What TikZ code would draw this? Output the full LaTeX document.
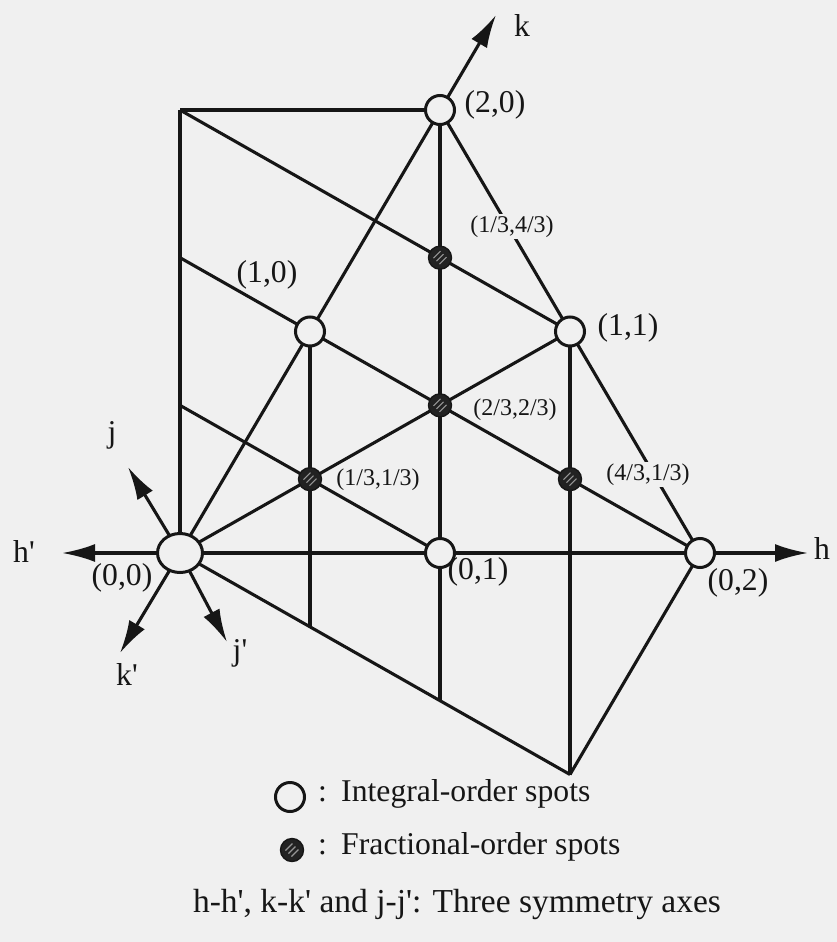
\documentclass[tikz,border=0pt]{standalone}
\usepackage{fontspec}
\setmainfont{Liberation Serif}
\usetikzlibrary{arrows.meta,shapes.geometric}
\definecolor{bg}{RGB}{240,240,240}
\definecolor{ink}{RGB}{22,22,22}
\definecolor{hatch}{RGB}{150,150,150}
\newcommand{\pr}{\textquotesingle}
\begin{document}
\begin{tikzpicture}[x=1pt,y=-1pt,
  lat/.style={draw=ink, line width=3.1pt},
  axisarrow/.style={draw=ink, line width=3.1pt, -{Latex[length=33pt,width=18pt]}},
  ispot/.style={circle, draw=ink, fill=bg, line width=3pt, minimum size=29pt, inner sep=0pt},
  ospot/.style={ellipse, draw=ink, fill=bg, line width=3pt, minimum width=45pt, minimum height=39pt, inner sep=0pt},
  hatchline/.style={draw=hatch, line width=1.1pt},
  fspot/.style={circle, draw=ink, fill=ink!95, line width=1.4pt, minimum size=23pt, inner sep=0pt,
    path picture={
      \draw[hatchline] (path picture bounding box.center) ++(-6.5pt,-0.5pt) -- ++(7pt,7pt);
      \draw[hatchline] (path picture bounding box.center) ++(-3.5pt,-3.5pt) -- ++(7pt,7pt);
      \draw[hatchline] (path picture bounding box.center) ++(-0.5pt,-6.5pt) -- ++(7pt,7pt);
    }},
  lbl/.style={font=\fontsize{31.7}{36}\selectfont, text=ink, inner sep=1pt, anchor=mid},
  slbl/.style={font=\fontsize{24}{28}\selectfont, text=ink, inner sep=2pt, anchor=mid},
  cutlbl/.style={slbl, fill=bg}]
\fill[bg] (0,0) rectangle (837,942);
\useasboundingbox (0,0) rectangle (837,942);
% lattice coordinates
\coordinate (cO) at (180,553);
\coordinate (c10) at (310,331.5);
\coordinate (c20) at (440,110);
\coordinate (c01) at (440,553);
\coordinate (c02) at (700,553);
\coordinate (c11) at (570,331.5);
\coordinate (C1) at (180,110);
\coordinate (L1) at (180,257.67);
\coordinate (L2) at (180,405.33);
\coordinate (cf1) at (310,479.17);
\coordinate (cf2) at (440,405.33);
\coordinate (cf3) at (440,257.67);
\coordinate (cf4) at (570,479.17);
\coordinate (B) at (570,774.5);
\coordinate (D1) at (310,626.83);
\coordinate (D2) at (440,700.67);
% axis tips
\coordinate (htip) at (808,553);
\coordinate (hptip) at (62,553);
\coordinate (ktip) at (496,15);
\coordinate (kptip) at (120,653);
\coordinate (jtip) at (128,467);
\coordinate (jptip) at (227,642);
% lattice lines
\draw[lat] (C1) -- (cO);
\draw[lat] (C1) -- (c20);
\draw[lat] (C1) -- (c11);
\draw[lat] (L1) -- (c02);
\draw[lat] (L2) -- (c01);
\draw[lat] (cO) -- (B);
\draw[lat] (c02) -- (B);
\draw[lat] (cO) -- (c11);
\draw[lat] (c20) -- (c02);
\draw[lat] (c10) -- (D1);
\draw[lat] (c20) -- (D2);
\draw[lat] (c11) -- (B);
% symmetry axes
\draw[axisarrow] (cO) -- (htip);
\draw[axisarrow] (cO) -- (hptip);
\draw[axisarrow] (cO) -- (ktip);
\draw[axisarrow] (cO) -- (kptip);
\draw[axisarrow] (cO) -- (jtip);
\draw[axisarrow] (cO) -- (jptip);
% spots
\node[ospot] (O) at (cO) {};
\node[ispot] (n10) at (c10) {};
\node[ispot] (n20) at (c20) {};
\node[ispot] (n01) at (c01) {};
\node[ispot] (n02) at (c02) {};
\node[ispot] (n11) at (c11) {};
\node[fspot] (f1) at (cf1) {};
\node[fspot] (f2) at (cf2) {};
\node[fspot] (f3) at (cf3) {};
\node[fspot] (f4) at (cf4) {};
% labels
\node[lbl] (lk) at (522,34) {k};
\node[lbl] (lh) at (822,557) {h};
\node[lbl] (lhp) at (24,560) {h\pr};
\node[lbl] (lj) at (112,440) {j};
\node[lbl] (ljp) at (240,658) {j\pr};
\node[lbl] (lkp) at (127,683) {k\pr};
\node[lbl] (l00) at (122,583) {(0,0)};
\node[lbl] (l01) at (478,577) {(0,1)};
\node[lbl] (l02) at (738,588) {(0,2)};
\node[lbl] (l10) at (267,280) {(1,0)};
\node[lbl] (l11) at (628,333) {(1,1)};
\node[lbl] (l20) at (495,110) {(2,0)};
\node[cutlbl] (lf3) at (512,230) {(1/3,4/3)};
\node[slbl] (lf2) at (515,413) {(2/3,2/3)};
\node[slbl] (lf1) at (378,483) {(1/3,1/3)};
\node[cutlbl] (lf4) at (648,478) {(4/3,1/3)};
% legend
\node[ispot] (legI) at (290,797) {};
\node[lbl, anchor=mid west] (legIt) at (317,799) {:\hspace{0.45em}Integral-order spots};
\node[fspot] (legF) at (292,850) {};
\node[lbl, anchor=mid west] (legFt) at (317,852) {:\hspace{0.45em}Fractional-order spots};
\node[lbl, font=\fontsize{33.5}{38}\selectfont] (cap) at (457,910) {h-h\pr, k-k\pr{} and j-j\pr: Three symmetry axes};
\end{tikzpicture}
\end{document}
